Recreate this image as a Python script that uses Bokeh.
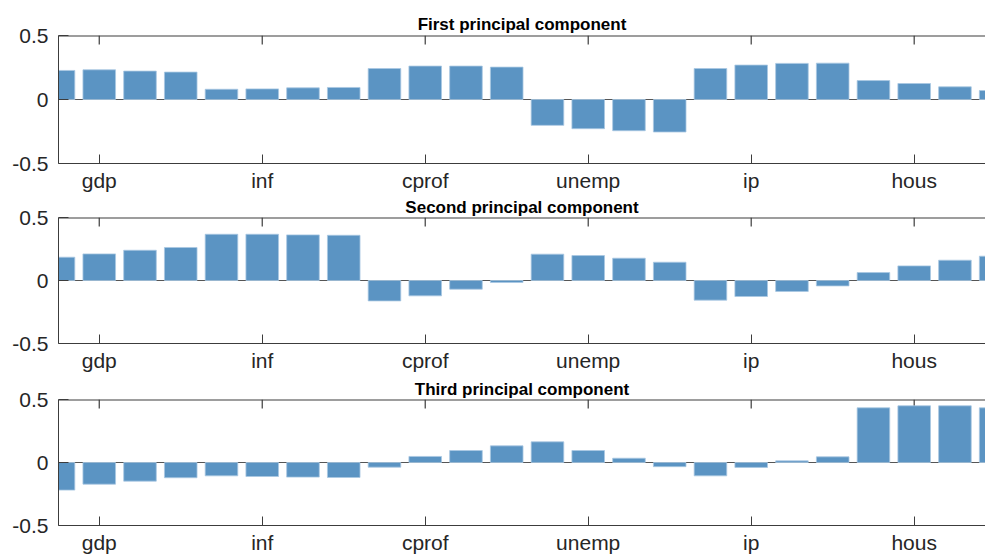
from bokeh.plotting import figure
from bokeh.layouts import column
from bokeh.models import Range1d, FixedTicker, LinearAxis, Span, ColumnDataSource
from bokeh.embed import file_html
from bokeh.resources import INLINE

variables = ["gdp", "inf", "cprof", "unemp", "ip", "hous"]
horizons = 4
titles = ["First principal component", "Second principal component", "Third principal component"]

pc1 = [0.227, 0.232, 0.222, 0.214, 0.080, 0.083, 0.091, 0.094,
       0.242, 0.261, 0.261, 0.253, -0.202, -0.228, -0.244, -0.254,
       0.242, 0.269, 0.282, 0.284, 0.148, 0.125, 0.099, 0.070]
pc2 = [0.185, 0.211, 0.240, 0.262, 0.367, 0.367, 0.362, 0.359,
       -0.162, -0.122, -0.069, -0.016, 0.209, 0.198, 0.177, 0.145,
       -0.156, -0.127, -0.087, -0.043, 0.063, 0.116, 0.161, 0.193]
pc3 = [-0.219, -0.172, -0.148, -0.121, -0.106, -0.111, -0.116, -0.119,
       -0.037, 0.048, 0.095, 0.132, 0.164, 0.095, 0.034, -0.033,
       -0.106, -0.039, 0.013, 0.045, 0.434, 0.450, 0.450, 0.434]

y_ticks = [-0.5, 0, 0.5]
y_tick_labels = ["-0.5", "0", "0.5"]

FONT = "Liberation Sans"
BAR = "#5b94c3"
AX = "#3c3c3c"
TXT = "#262626"

positions = list(range(1, len(pc1) + 1))
label_positions = [i * horizons + 2 for i in range(len(variables))]
x_full = (1, 24)          # MATLAB axis limits (right part cut off by the window)
x_visible_end = 23.75

# (border_top, frame_height, border_bottom, title_standoff)
geoms = [(35, 128, 31, 3), (23, 126, 31, 2), (25, 126, 29, 2)]

figs = []
for k, (vals, title) in enumerate(zip([pc1, pc2, pc3], titles)):
    bt, fh, bb, ts = geoms[k]
    ylo, yhi = -0.5, 0.5
    p = figure(frame_width=927, frame_height=fh, min_border_left=58, min_border_right=0,
               min_border_top=bt, min_border_bottom=bb,
               x_range=Range1d(x_full[0], x_visible_end), y_range=Range1d(ylo, yhi),
               output_backend="svg", toolbar_location=None, title=title,
               x_axis_location=None, y_axis_location=None)
    p.title.align = "center"
    p.title.offset = 4.5
    p.title.standoff = ts
    p.title.text_font = FONT
    p.title.text_font_style = "bold"
    p.title.text_font_size = "17px"
    p.title.text_color = "#000000"
    p.xgrid.visible = False
    p.ygrid.visible = False
    p.outline_line_color = None
    p.background_fill_color = "white"
    p.border_fill_color = "white"

    xb = LinearAxis(ticker=FixedTicker(ticks=label_positions))
    xb.major_label_overrides = {pos: lab for pos, lab in zip(label_positions, variables)}
    xb.major_tick_in = 9
    xb.major_tick_out = 0
    xb.minor_tick_in = 0
    xb.minor_tick_out = 0
    xb.axis_line_color = AX
    xb.major_tick_line_color = AX
    xb.major_label_text_font = FONT
    xb.major_label_text_font_size = "21px"
    xb.major_label_text_color = TXT
    xb.major_label_standoff = 5
    p.add_layout(xb, "below")

    ya = LinearAxis(ticker=FixedTicker(ticks=y_ticks))
    ya.major_label_overrides = {t: l for t, l in zip(y_ticks, y_tick_labels)}
    ya.major_tick_in = 10
    ya.major_tick_out = 0
    ya.minor_tick_in = 0
    ya.minor_tick_out = 0
    ya.axis_line_color = AX
    ya.major_tick_line_color = AX
    ya.major_label_text_font = FONT
    ya.major_label_text_font_size = "21px"
    ya.major_label_text_color = TXT
    ya.major_label_standoff = 10
    p.add_layout(ya, "left")

    # zero baseline
    p.add_layout(Span(location=0, dimension="width", line_color="#555555",
                      line_width=1.2, level="underlay"))

    # top box edge with mirrored ticks
    tick_len = 9.0 / fh * (yhi - ylo)
    p.segment(x0=[x_full[0]], y0=[yhi], x1=[x_full[1] + 1], y1=[yhi],
              line_color=AX, line_width=2)
    p.segment(x0=label_positions, y0=[yhi] * len(label_positions),
              x1=label_positions, y1=[yhi - tick_len] * len(label_positions),
              line_color=AX, line_width=1.2)

    src = ColumnDataSource(dict(x=positions, top=vals))
    p.vbar(x="x", top="top", bottom=0, width=0.8, source=src,
           fill_color=BAR, line_color="#a9c8e2", line_width=0.8)
    figs.append(p)

layout = column(*figs, spacing=0)
open("out.html", "w").write(file_html(layout, INLINE))
